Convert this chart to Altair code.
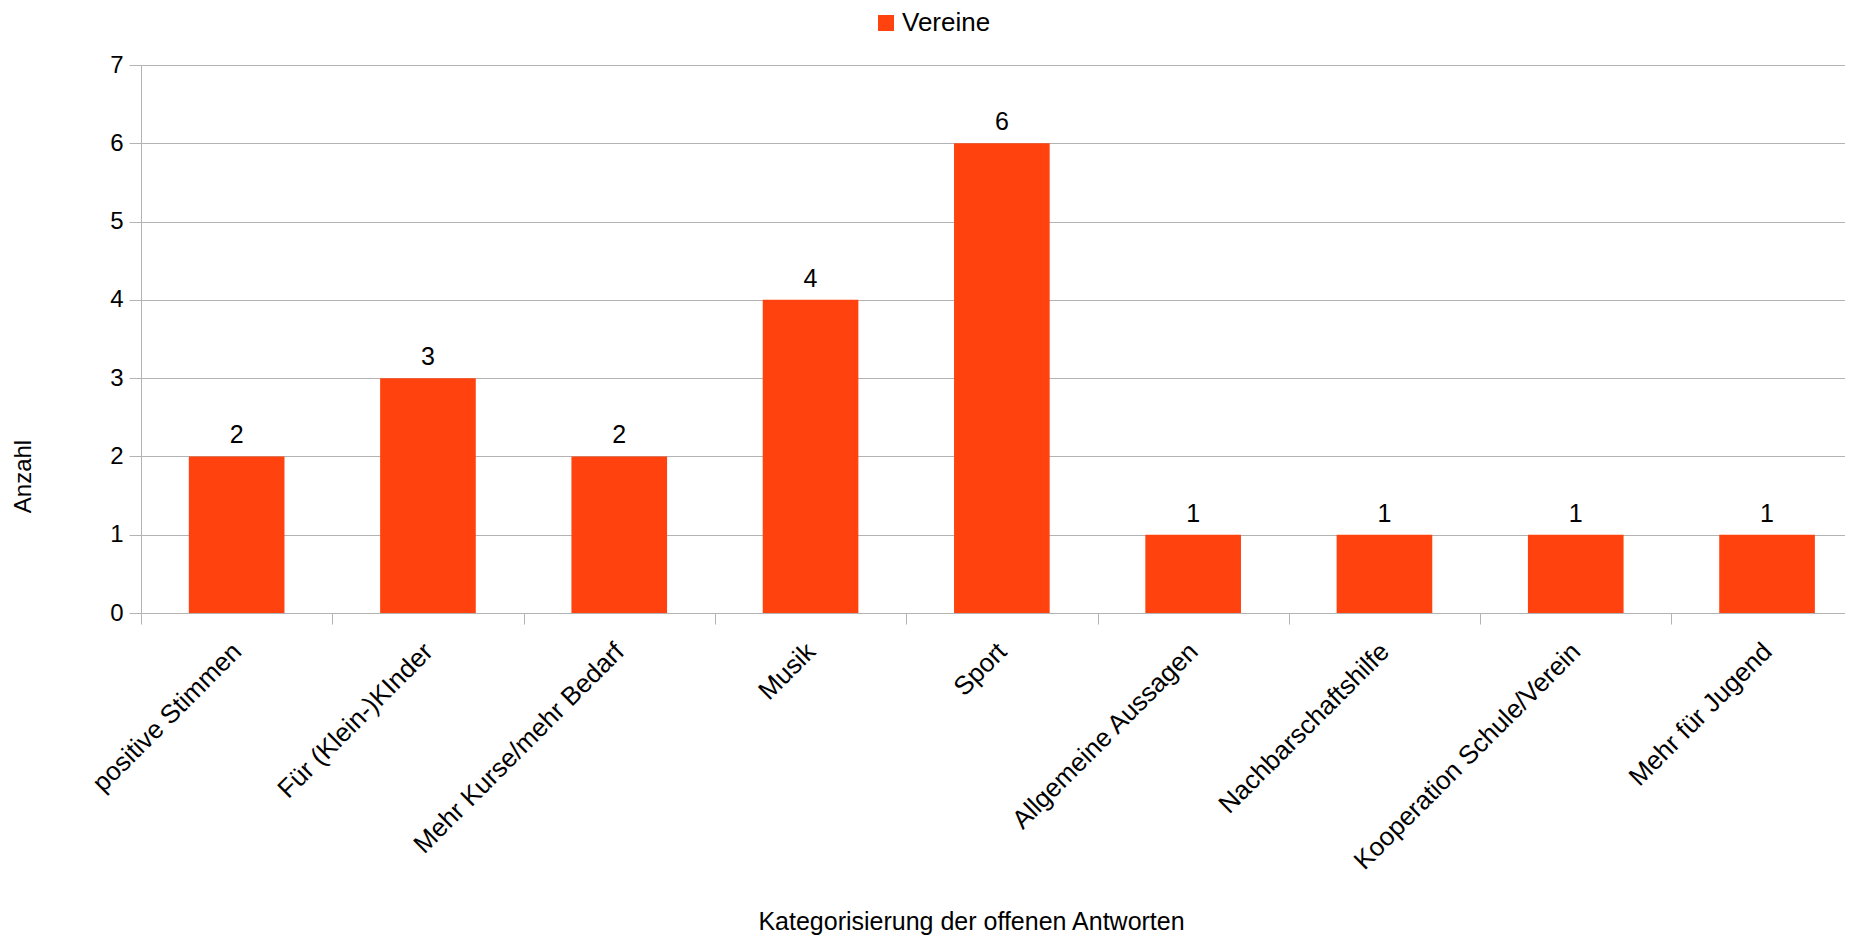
import altair as alt
import pandas as pd

categories = ["positive Stimmen", "Für (Klein-)KInder", "Mehr Kurse/mehr Bedarf", "Musik", "Sport",
              "Allgemeine Aussagen", "Nachbarschaftshilfe", "Kooperation Schule/Verein", "Mehr für Jugend"]
values = [2, 3, 2, 4, 6, 1, 1, 1, 1]
series = "Vereine"

df = pd.DataFrame({"Kategorie": categories, "Anzahl": values,
                   "idx": list(range(len(categories))), "Serie": [series] * len(categories)})

FONT = "Liberation Sans"
GRID = "#b3b3b3"
BAR = "#FF420E"

PLOT_W = 1704
STEP = 191.3
n = len(categories)
x_domain = [0, PLOT_W / STEP]

cat_array = "[" + ",".join("'" + c.replace("'", "\\'") + "'" for c in categories) + "]"
tick_vals = [i * 0.5 for i in range(2 * n)]

x_scale = alt.Scale(domain=x_domain, nice=False, zero=False, padding=0)
x_axis = alt.Axis(title="Kategorisierung der offenen Antworten", values=tick_vals,
                  labelExpr=f"datum.value % 1 == 0 ? '' : {cat_array}[floor(datum.value)]",
                  tickOpacity={"condition": {"test": "datum.value % 1 == 0", "value": 1}, "value": 0},
                  grid=False, labelAngle=-45,
                  labelFontSize=26, labelFont=FONT, labelColor="black",
                  tickSize=11, tickColor=GRID, domainColor=GRID,
                  labelPadding=14, labelOffset=-9, labelFlush=False, labelBound=False,
                  labelOverlap=False, labelLimit=0,
                  titleFontSize=25, titleFont=FONT, titleFontWeight="normal",
                  titleColor="black", titleX=830, titleY=308, titleAlign="center",
                  titleBaseline="middle")
y_scale = alt.Scale(domain=[0, 7], nice=False, padding=0)
y_axis = alt.Axis(title="Anzahl", values=[0, 1, 2, 3, 4, 5, 6, 7], format="d", tickSize=12,
                  tickColor=GRID, domainColor=GRID, gridColor=GRID, grid=True,
                  labelFontSize=24, labelFont=FONT, labelColor="black", labelPadding=6,
                  titleFontSize=24, titleFont=FONT, titleFontWeight="normal", titleColor="black",
                  titleAngle=-90, titleX=-118, titleY=411, titleAlign="center",
                  titleBaseline="middle")

base = alt.Chart(df).transform_calculate(
    x0="datum.idx + 0.25", x1="datum.idx + 0.75", xc="datum.idx + 0.5"
)

bars = base.mark_bar().encode(
    x=alt.X("x0:Q", scale=x_scale, axis=x_axis),
    x2="x1:Q",
    y=alt.Y("Anzahl:Q", scale=y_scale, axis=y_axis),
    y2=alt.datum(0),
    color=alt.Color("Serie:N", scale=alt.Scale(range=[BAR]),
                    legend=alt.Legend(title=None, orient="none", legendX=732, legendY=-55,
                                      symbolType="square", symbolSize=256, symbolStrokeWidth=0,
                                      labelFontSize=26, labelFont=FONT, labelColor="black",
                                      labelOffset=3, padding=0)),
    tooltip=["Kategorie:N", "Anzahl:Q"],
)

labels = base.mark_text(baseline="alphabetic", dy=-13, fontSize=25, font=FONT,
                        color="black").encode(
    x=alt.X("xc:Q", scale=x_scale),
    y=alt.Y("Anzahl:Q", scale=y_scale),
    text="Anzahl:Q",
)

chart = alt.layer(bars, labels).properties(
    width=PLOT_W, height=548,
    autosize=alt.AutoSizeParams(type="none"),
    padding={"left": 133, "top": 57, "right": 0, "bottom": 322},
).configure_view(stroke=None)

chart.save("out.html", embed_options={"renderer": "svg", "actions": False})
